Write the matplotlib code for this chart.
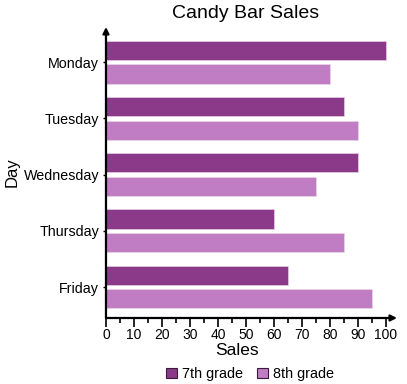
import numpy as np
import matplotlib
matplotlib.use('Agg')
import matplotlib.pyplot as plt
from matplotlib.patches import Patch
from matplotlib.ticker import MultipleLocator

plt.rcParams['font.family'] = ['Liberation Sans', 'DejaVu Sans']

days = ['Monday', 'Tuesday', 'Wednesday', 'Thursday', 'Friday']
grade7 = [100, 85, 90, 60, 65]
grade8 = [80, 90, 75, 85, 95]
series_names = ['7th grade', '8th grade']

c7 = '#8b3a89'
c8 = '#c17dc3'

fig = plt.figure(figsize=(4.07, 3.84), dpi=100)
ax = fig.add_axes([0.2604, 0.1719, 0.715, 0.7578])

y = np.arange(len(days))
h = 0.34
ax.barh(y - 0.21, grade7, height=h, color=c7, edgecolor='#e6cde6', linewidth=0.5)
ax.barh(y + 0.21, grade8, height=h, color=c8, edgecolor='#ead5ea', linewidth=0.5)

ax.set_xlim(0, 104)
ax.set_ylim(4.55, -0.625)

ax.set_yticks(y)
ax.set_yticklabels(days, fontsize=10.3)
ax.xaxis.set_major_locator(MultipleLocator(10))
ax.xaxis.set_minor_locator(MultipleLocator(5))
ax.set_xticks(np.arange(0, 101, 10))
ax.tick_params(axis='x', which='major', length=6.5, width=1.2, pad=1, labelsize=10)
ax.tick_params(axis='x', which='minor', length=3.5, width=1.2)
ax.tick_params(axis='y', length=2, width=1, pad=3)

for s in ax.spines.values():
    s.set_visible(False)

arrow = dict(arrowstyle='-|>', lw=1.6, color='k', shrinkA=0, shrinkB=0,
             mutation_scale=9)
ax.annotate('', xy=(1.0, 0), xytext=(0, 0), xycoords='axes fraction',
            textcoords='axes fraction', arrowprops=arrow, annotation_clip=False)
ax.annotate('', xy=(0, 1.0), xytext=(0, 0), xycoords='axes fraction',
            textcoords='axes fraction', arrowprops=arrow, annotation_clip=False)

ax.set_xlabel('Sales', fontsize=12.5)
ax.xaxis.set_label_coords(0.45, -0.113)
ax.xaxis.label.set_va('center')
ax.set_ylabel('Day', fontsize=12)
ax.yaxis.set_label_coords(-0.323, 0.50)
ax.yaxis.label.set_va('center')

fig.text(246 / 407, 1 - 13 / 384, 'Candy Bar Sales', fontsize=14,
         ha='center', va='center')

handles = [Patch(facecolor=c7, edgecolor='#3a1a3a', linewidth=0.8),
           Patch(facecolor=c8, edgecolor='#3a1a3a', linewidth=0.8)]
fig.legend(handles, series_names, loc='center', ncol=2,
           bbox_to_anchor=(250 / 407, 1 - 374 / 384), frameon=False,
           fontsize=10.4, handlelength=0.75, handleheight=0.75,
           handletextpad=0.35, columnspacing=1.0, borderpad=0)

fig.savefig('out.png', dpi=100)
